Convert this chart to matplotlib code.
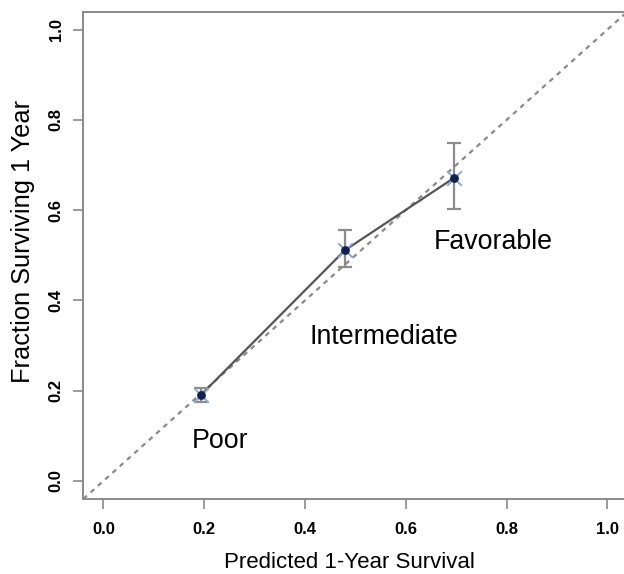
import matplotlib
matplotlib.use("Agg")
import matplotlib.pyplot as plt

categories = ["Poor", "Intermediate", "Favorable"]
predicted = [0.193, 0.479, 0.695]
observed = [0.190, 0.511, 0.671]
ci_low = [0.176, 0.473, 0.602]
ci_high = [0.205, 0.557, 0.750]
label_x = [0.232, 0.556, 0.774]
label_y = [0.089, 0.319, 0.529]
ticks = [0.0, 0.2, 0.4, 0.6, 0.8, 1.0]
tick_labels = ["0.0", "0.2", "0.4", "0.6", "0.8", "1.0"]

plt.rcParams['font.family'] = ['Liberation Sans', 'DejaVu Sans']

fig = plt.figure(figsize=(6.24, 5.74), dpi=100)
ax = fig.add_axes([0.1335, 0.1307, 0.872, 0.849])

ax.plot([-0.04, 1.04], [-0.04, 1.04], color="#8a8a8a", lw=1.6,
        linestyle=(0, (2.2, 2.2)), zorder=1)
ax.plot(predicted, observed, color="#555555", lw=1.6, zorder=2)
yerr = [[o - l for o, l in zip(observed, ci_low)],
        [h - o for o, h in zip(observed, ci_high)]]
ax.errorbar(predicted, observed, yerr=yerr, fmt="none", ecolor="#8c8c8c",
            elinewidth=1.6, capsize=5, capthick=1.6, zorder=3)
ax.scatter(predicted, observed, marker="x", s=110, color="#8fa8d8",
           linewidths=1.4, zorder=4)
ax.scatter(predicted, observed, marker="o", s=28, color="#12224f", zorder=5)

for name, x, y in zip(categories, label_x, label_y):
    ax.text(x, y, name, fontsize=19.3, ha="center", va="center", color="black")

ax.set_xlim(-0.04, 1.04)
ax.set_ylim(-0.04, 1.04)
ax.set_xticks(ticks)
ax.set_xticklabels(tick_labels, fontweight="bold", fontsize=12)
ax.set_yticks(ticks)
ax.set_yticklabels(tick_labels, fontweight="bold", fontsize=12,
                   rotation=90, va="center")
ax.tick_params(axis="both", length=7, width=1.2, color="#8a8a8a")
ax.tick_params(axis="x", pad=9.5)
ax.tick_params(axis="y", pad=7)
for s in ax.spines.values():
    s.set_color("#8a8a8a")
    s.set_linewidth(1.4)

fig.text(349.5 / 624, (574 - 568) / 574, "Predicted 1-Year Survival",
         fontsize=16, ha="center", va="baseline")
fig.text(23 / 624, (574 - 241.5) / 574, "Fraction Surviving 1 Year",
         fontsize=18.3, ha="center", va="center", rotation=90)

fig.savefig("out.png", dpi=100)
